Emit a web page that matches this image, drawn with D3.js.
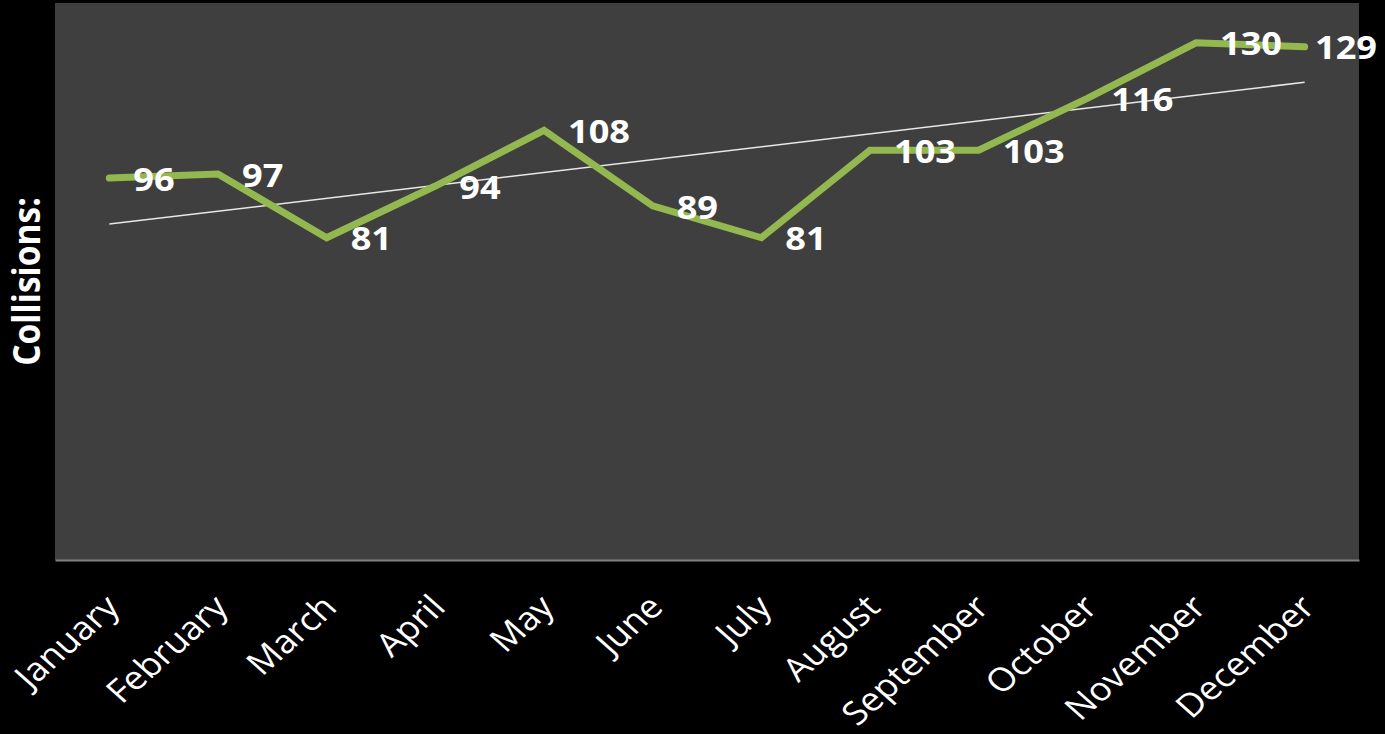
<!DOCTYPE html>
<html><head><meta charset="utf-8">
<script src="https://cdn.jsdelivr.net/npm/d3@7"></script>
<style>html,body{margin:0;padding:0;background:#000;}svg{display:block;}</style>
</head><body>
<script>
const months = ["January","February","March","April","May","June","July","August","September","October","November","December"];
const collisions = [96,97,81,94,108,89,81,103,103,116,130,129];
const yTitle = "Collisions:";

const W = 1385, H = 734;
const m = {left:55, right:26, top:3, bottom:174};
const SX = 1.13;
const svg = d3.select("body").append("svg").attr("width",W).attr("height",H).style("background","#000");

const x = d3.scaleBand().domain(months).range([m.left, W-m.right]);
const y = d3.scaleLinear().domain([0,140]).range([H-m.bottom, m.top]);
const cx = d => x(d) + x.bandwidth()/2;

svg.append("rect").attr("x",m.left).attr("y",m.top).attr("width",W-m.right-m.left).attr("height",H-m.bottom-m.top).attr("fill","#3f3f3f");

// bottom axis
const xAxis = d3.axisBottom(x).tickSize(0).tickFormat("");
const gx = svg.append("g").attr("transform",`translate(0,${H-m.bottom})`).call(xAxis);
gx.select(".domain").attr("stroke","#808080").attr("stroke-width",2);

// axis labels
svg.append("g").selectAll("text").data(months).join("text")
  .attr("transform", d => `translate(${cx(d)+3},${H-m.bottom+41}) scale(${SX},1) rotate(-45)`)
  .attr("text-anchor","end").attr("dy","0.35em")
  .attr("fill","#fff").attr("font-family","'Open Sans', sans-serif").attr("font-size",32.5)
  .text(d=>d);

// trend line (least squares)
const n = collisions.length;
const xm = d3.mean(collisions,(d,i)=>i), ym = d3.mean(collisions);
const slope = d3.sum(collisions,(d,i)=>(i-xm)*(d-ym)) / d3.sum(collisions,(d,i)=>(i-xm)*(i-xm));
const icpt = ym - slope*xm;
svg.append("line")
  .attr("x1",cx(months[0])).attr("y1",y(icpt))
  .attr("x2",cx(months[n-1])).attr("y2",y(icpt+slope*(n-1)))
  .attr("stroke","#e8e8e8").attr("stroke-width",1.5);

// series line
const line = d3.line().x((d,i)=>cx(months[i])).y(d=>y(d));
svg.append("path").datum(collisions).attr("d",line)
  .attr("fill","none").attr("stroke","#93b84f").attr("stroke-width",7)
  .attr("stroke-linejoin","miter").attr("stroke-linecap","round");

// data labels (kept inside the figure: shifted left if they would overflow)
svg.append("g").selectAll("text").data(collisions).join("text")
  .attr("dy","0.35em")
  .attr("fill","#fff").attr("font-family","'Open Sans', sans-serif").attr("font-weight","bold").attr("font-size",32)
  .text(d=>d)
  .attr("transform", function(d,i){
    const w = this.getComputedTextLength()*SX;
    let lx = cx(months[i]) + 24;
    if (lx + w > W - 8) lx = W - 8 - w;
    return `translate(${lx},${y(d)+1.5}) scale(${SX},1)`;
  });

// y title
svg.append("text").attr("transform",`translate(40,${(m.top+H-m.bottom)/2}) scale(${SX},1) rotate(-90)`)
  .attr("text-anchor","middle").attr("fill","#fff")
  .attr("font-family","'Open Sans', sans-serif").attr("font-weight","bold").attr("font-size",33.5)
  .text(yTitle);
</script>
</body></html>
